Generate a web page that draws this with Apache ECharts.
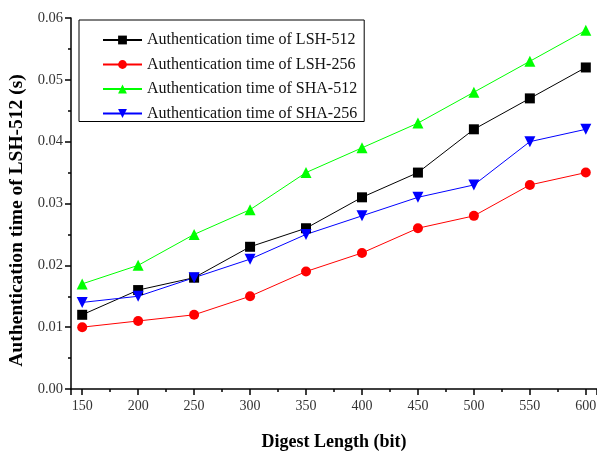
<!DOCTYPE html>
<html><head><meta charset="utf-8">
<script src="https://cdn.jsdelivr.net/npm/echarts@6/dist/echarts.min.js"></script>
<style>html,body{margin:0;padding:0;background:#fff}#c{width:597px;height:456px}</style>
</head><body><div id="c"></div>
<script>
const digestLengths = [150, 200, 250, 300, 350, 400, 450, 500, 550, 600];
const lsh512 = [0.012, 0.016, 0.018, 0.023, 0.026, 0.031, 0.035, 0.042, 0.047, 0.052];
const lsh256 = [0.010, 0.011, 0.012, 0.015, 0.019, 0.022, 0.026, 0.028, 0.033, 0.035];
const sha512 = [0.017, 0.020, 0.025, 0.029, 0.035, 0.039, 0.043, 0.048, 0.053, 0.058];
const sha256 = [0.014, 0.015, 0.018, 0.021, 0.025, 0.028, 0.031, 0.033, 0.040, 0.042];
const seriesNames = ['Authentication time of LSH-512','Authentication time of LSH-256','Authentication time of SHA-512','Authentication time of SHA-256'];
const xTitle = 'Digest Length (bit)';
const yTitle = 'Authentication time of LSH-512 (s)';

const font = 'Liberation Serif';
function pairs(v){ return digestLengths.map((x,i)=>[x, v[i]]); }
function mk(name, data, color, symbol, size, rot){
  return {name, type:'line', data:pairs(data), symbol, symbolSize:size, symbolRotate:rot||0,
    lineStyle:{color, width:1}, itemStyle:{color}, emphasis:{disabled:true}, animation:false};
}
const chart = echarts.init(document.getElementById('c'), null, {renderer:'canvas'});
chart.setOption({
  animation:false,
  grid:{left:71, top:18, right:0, bottom:67, containLabel:false, outerBoundsMode:'none'},
  legend:{
    orient:'vertical', left:79, top:20, padding:[12,7,0,23], itemGap:8.5,
    itemWidth:39, itemHeight:11, borderColor:'#000', borderWidth:1,
    textStyle:{fontFamily:font, fontSize:16, color:'#111'},
    data:seriesNames
  },
  xAxis:{
    type:'value', min:140, max:610, splitNumber:10,
    name:xTitle, nameLocation:'middle', nameGap:44,
    nameTextStyle:{fontFamily:font, fontSize:18, fontWeight:'bold', color:'#000'},
    axisLine:{show:true, onZero:false, lineStyle:{color:'#000', width:1.5}},
    axisTick:{show:true, inside:false, length:6, lineStyle:{color:'#000', width:1.5}},
    minorTick:{show:true, splitNumber:2, length:3, lineStyle:{color:'#000', width:1.5}},
    splitLine:{show:false},
    axisLabel:{fontFamily:font, fontSize:14, color:'#333', margin:10,
      showMinLabel:false, showMaxLabel:false,
      formatter:v=> digestLengths.includes(v) ? String(v) : ''}
  },
  yAxis:{
    type:'value', min:0, max:0.06, interval:0.01,
    name:yTitle, nameLocation:'middle', nameGap:44,
    nameTextStyle:{fontFamily:font, fontSize:19.5, fontWeight:'bold', color:'#000', padding:[0,0,0,-34]},
    axisLine:{show:true, lineStyle:{color:'#000', width:1.5}},
    axisTick:{show:true, inside:false, length:6, lineStyle:{color:'#000', width:1.5}},
    minorTick:{show:true, splitNumber:2, length:3, lineStyle:{color:'#000', width:1.5}},
    splitLine:{show:false},
    axisLabel:{fontFamily:font, fontSize:14.5, color:'#333', margin:8, formatter:v=>v.toFixed(2)}
  },
  series:[
    mk(seriesNames[0], lsh512, '#000000', 'rect', 10),
    mk(seriesNames[1], lsh256, '#ff0000', 'circle', 10),
    mk(seriesNames[2], sha512, '#00ff00', 'triangle', 11),
    mk(seriesNames[3], sha256, '#0000ff', 'triangle', 11, 180)
  ]
});
</script></body></html>
